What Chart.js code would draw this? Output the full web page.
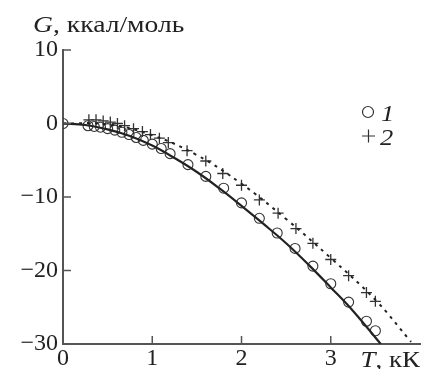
<!DOCTYPE html>
<html>
<head>
<meta charset="utf-8">
<script src="https://cdn.jsdelivr.net/npm/chart.js@4"></script>
<style>
  html, body { margin: 0; padding: 0; background: #fff; }
  #wrap { width: 428px; height: 369px; }
</style>
</head>
<body>
<div id="wrap"><canvas id="gChart" width="428" height="369"></canvas></div>
<script>
//series 1 (circles)
const circleT = [0, 0.28, 0.35, 0.42, 0.5, 0.58, 0.66, 0.74, 0.82, 0.9, 1.0, 1.1, 1.2, 1.4, 1.6, 1.8, 2.0, 2.2, 2.4, 2.6, 2.8, 3.0, 3.2, 3.4, 3.5];
const circleG = [0, -0.3, -0.4, -0.5, -0.7, -0.9, -1.2, -1.5, -1.9, -2.3, -2.8, -3.4, -4.1, -5.6, -7.2, -8.8, -10.8, -12.9, -14.9, -17.0, -19.4, -21.8, -24.3, -26.9, -28.2];

//series 2 (crosses)
const crossT = [0.29, 0.37, 0.45, 0.53, 0.61, 0.69, 0.79, 0.89, 0.98, 1.08, 1.18, 1.39, 1.6, 1.79, 2.0, 2.2, 2.41, 2.61, 2.8, 3.0, 3.2, 3.4, 3.5];
const crossG = [0.5, 0.5, 0.35, 0.2, 0.0, -0.3, -0.7, -1.1, -1.5, -2.0, -2.6, -3.7, -5.1, -6.8, -8.4, -10.4, -12.2, -14.3, -16.3, -18.5, -20.7, -23.0, -24.2];

//solid curve
const solidT = [0, 0.25, 0.5, 0.75, 1.0, 1.25, 1.5, 1.75, 2.0, 2.25, 2.5, 2.75, 3.0, 3.25, 3.56];
const solidG = [0, -0.2, -0.8, -1.7, -3.0, -4.7, -6.6, -8.8, -11.2, -13.7, -16.3, -19.2, -22.3, -25.5, -30];

//dotted curve
const dotT = [0, 0.5, 1.0, 1.5, 2.0, 2.5, 3.0, 3.5, 3.9];
const dotG = [0, -0.1, -1.6, -4.3, -8.2, -13.0, -18.3, -24.0, -29.7];

//axis ticks
const xTicks = [0, 1, 2, 3];
const yTicks = [10, 0, -10, -20, -30];

const pts = (xs, ys) => xs.map((x, i) => ({ x: x, y: ys[i] }));
const ink = "#222";
const serif = "'Liberation Serif', 'Times New Roman', serif";

//draws a run of [text, italic] pieces, a little widened like the printed figure
function drawRun(ctx, parts, x, y, size, stretch) {
  ctx.save();
  ctx.translate(x, y);
  ctx.scale(stretch, 1);
  let cx = 0;
  parts.forEach(([txt, it]) => {
    ctx.font = (it ? "italic " : "") + size + "px " + serif;
    ctx.fillText(txt, cx, 0);
    cx += ctx.measureText(txt).width;
  });
  ctx.restore();
  return cx * stretch;
}

function runWidth(ctx, parts, size, stretch) {
  let w = 0;
  parts.forEach(([txt, it]) => {
    ctx.font = (it ? "italic " : "") + size + "px " + serif;
    w += ctx.measureText(txt).width;
  });
  return w * stretch;
}

//title, axis name, legend and inner tick marks
const extras = {
  id: "extras",
  afterDatasetsDraw(chart) {
    const ctx = chart.ctx;
    const xs = chart.scales.x;
    const ys = chart.scales.y;
    ctx.save();
    ctx.strokeStyle = "#555";
    ctx.lineWidth = 1.5;
    yTicks.forEach(v => {
      if (v === -30) return;
      const y = ys.getPixelForValue(v);
      ctx.beginPath(); ctx.moveTo(xs.left, y); ctx.lineTo(xs.left + 8, y); ctx.stroke();
    });
    xTicks.forEach(v => {
      if (v === 0) return;
      const x = xs.getPixelForValue(v);
      ctx.beginPath(); ctx.moveTo(x, ys.bottom); ctx.lineTo(x, ys.bottom - 8); ctx.stroke();
    });

    ctx.fillStyle = ink;
    ctx.textBaseline = "alphabetic";
    ctx.textAlign = "left";

    //y axis name
    drawRun(ctx, [["G", true], [", ккал/моль", false]], 33, 32, 23, 1.2);

    //x axis name
    const xName = [["T", true], [", кК", false]];
    const w = runWidth(ctx, xName, 24, 1.12);
    drawRun(ctx, xName, xs.right - w, 367, 24, 1.12);

    //legend
    ctx.strokeStyle = "#333";
    ctx.lineWidth = 1.2;
    ctx.beginPath(); ctx.arc(368, 112, 5.5, 0, Math.PI * 2); ctx.stroke();
    ctx.beginPath();
    ctx.moveTo(362, 136); ctx.lineTo(375, 136);
    ctx.moveTo(368.5, 129.5); ctx.lineTo(368.5, 142.5);
    ctx.stroke();
    drawRun(ctx, [["1", true]], 381, 121, 24, 1.1);
    drawRun(ctx, [["2", true]], 380, 145, 24, 1.1);
    ctx.restore();
  }
};

new Chart(document.getElementById("gChart"), {
  type: "scatter",
  data: {
    datasets: [
      {
        label: "solid",
        data: pts(solidT, solidG),
        showLine: true,
        borderColor: ink,
        borderWidth: 2.2,
        pointRadius: 0,
        tension: 0.4,
        fill: false
      },
      {
        label: "dotted",
        data: pts(dotT, dotG),
        showLine: true,
        borderColor: ink,
        borderWidth: 2,
        borderDash: [3, 5],
        pointRadius: 0,
        tension: 0.4,
        fill: false
      },
      {
        label: "1",
        data: pts(circleT, circleG),
        pointStyle: "circle",
        pointRadius: 5,
        borderColor: "#333",
        borderWidth: 1.1,
        backgroundColor: "rgba(0,0,0,0)"
      },
      {
        label: "2",
        data: pts(crossT, crossG),
        pointStyle: "cross",
        pointRadius: 5.5,
        borderColor: "#333",
        borderWidth: 1.3
      }
    ]
  },
  options: {
    responsive: false,
    animation: false,
    events: [],
    layout: { padding: { top: 50, right: 8, left: 0, bottom: 0 } },
    plugins: {
      legend: { display: false },
      tooltip: { enabled: false }
    },
    scales: {
      x: {
        type: "linear",
        min: 0,
        max: 4,
        afterFit: s => { s.height = 25; },
        afterBuildTicks: s => { s.ticks = xTicks.map(v => ({ value: v })); },
        ticks: {
          color: ink,
          font: { family: serif, size: 24 },
          padding: 0,
          maxRotation: 0,
          autoSkip: false
        },
        grid: { drawOnChartArea: false, drawTicks: false },
        border: { color: "#555", width: 2 }
      },
      y: {
        type: "linear",
        min: -30,
        max: 10,
        afterFit: s => { s.width = 63; },
        afterBuildTicks: s => { s.ticks = yTicks.map(v => ({ value: v })); },
        ticks: {
          color: ink,
          font: { family: serif, size: 24 },
          padding: 5,
          autoSkip: false,
          callback: v => v < 0 ? "\u2212" + Math.abs(v) : String(v)
        },
        grid: { drawOnChartArea: false, drawTicks: false },
        border: { color: "#555", width: 2 }
      }
    }
  },
  plugins: [extras]
});
</script>
</body>
</html>
